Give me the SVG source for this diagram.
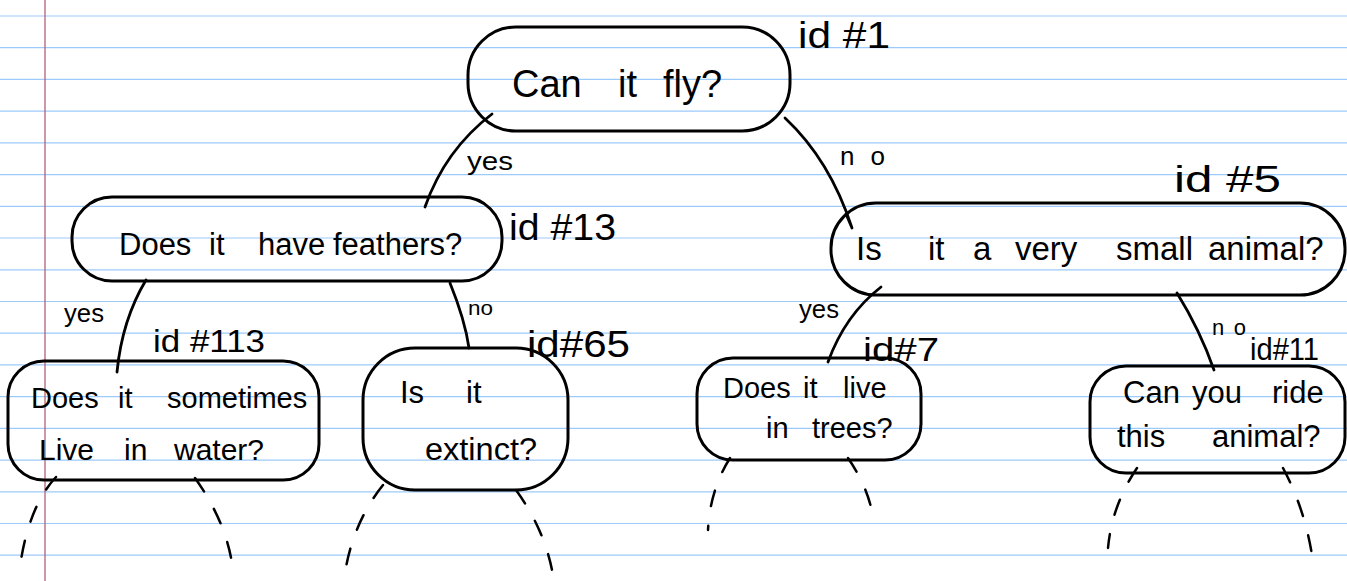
<svg xmlns="http://www.w3.org/2000/svg" width="1347" height="581" viewBox="0 0 1347 581">
<defs>
<style>
.rule{stroke:#9ccafa;stroke-width:1.2}
.margin{stroke:#b0607c;stroke-width:1.3}
.box{fill:none;stroke:#000;stroke-width:3;stroke-linejoin:round}
.edge{fill:none;stroke:#000;stroke-width:2.8;stroke-linecap:round}
.dash{fill:none;stroke:#000;stroke-width:2.5;stroke-dasharray:16 20;stroke-linecap:round}
text{font-family:"Liberation Sans",Arial,sans-serif;fill:#000}
.q{font-size:33px}
.q2{font-size:31px}
.id{font-size:36px}
.lb{font-size:26px}
</style>
</defs>
<rect width="1347" height="581" fill="#fff"/>
<g id="paper">
<line class="rule" x1="0" y1="16" x2="1347" y2="16"/>
<line class="rule" x1="0" y1="47.7" x2="1347" y2="47.7"/>
<line class="rule" x1="0" y1="79.4" x2="1347" y2="79.4"/>
<line class="rule" x1="0" y1="111.2" x2="1347" y2="111.2"/>
<line class="rule" x1="0" y1="142.9" x2="1347" y2="142.9"/>
<line class="rule" x1="0" y1="174.6" x2="1347" y2="174.6"/>
<line class="rule" x1="0" y1="206.3" x2="1347" y2="206.3"/>
<line class="rule" x1="0" y1="238" x2="1347" y2="238"/>
<line class="rule" x1="0" y1="269.8" x2="1347" y2="269.8"/>
<line class="rule" x1="0" y1="301.5" x2="1347" y2="301.5"/>
<line class="rule" x1="0" y1="333.2" x2="1347" y2="333.2"/>
<line class="rule" x1="0" y1="364.9" x2="1347" y2="364.9"/>
<line class="rule" x1="0" y1="396.6" x2="1347" y2="396.6"/>
<line class="rule" x1="0" y1="428.4" x2="1347" y2="428.4"/>
<line class="rule" x1="0" y1="460.1" x2="1347" y2="460.1"/>
<line class="rule" x1="0" y1="491.8" x2="1347" y2="491.8"/>
<line class="rule" x1="0" y1="523.5" x2="1347" y2="523.5"/>
<line class="rule" x1="0" y1="555.2" x2="1347" y2="555.2"/>
<line class="margin" x1="45" y1="0" x2="45" y2="581"/>
</g>
<g id="connectors">
<path class="edge" d="M492,114 Q445,150 425,207"/>
<path class="edge" d="M785,118 Q830,160 852,228 M852,228 L846,214"/>
<path class="edge" d="M146,280 Q122,320 117,372"/>
<path class="edge" d="M450,283 Q465,320 469,348"/>
<path class="edge" d="M881,287 Q845,315 828,362"/>
<path class="edge" d="M1177,293 Q1200,330 1214,370"/>
<path class="dash" d="M56,477 Q30,505 21,560"/>
<path class="dash" d="M195,478 Q225,520 232,563"/>
<path class="dash" d="M383,485 Q355,520 346,567"/>
<path class="dash" d="M516,490 Q545,530 553,575"/>
<path class="dash" d="M730,458 Q710,490 708,530"/>
<path class="dash" d="M848,458 Q870,490 874,523"/>
<path class="dash" d="M1137,468 Q1112,505 1108,548"/>
<path class="dash" d="M1283,468 Q1308,515 1314,570"/>
<text class="lb" x="467" y="170" textLength="46" lengthAdjust="spacingAndGlyphs">yes</text>
<text class="lb" x="840" y="165" textLength="45" lengthAdjust="spacing">no</text>
<text class="lb" x="64" y="322" textLength="40" lengthAdjust="spacingAndGlyphs">yes</text>
<text x="468" y="315" style="font-size:20px" textLength="25" lengthAdjust="spacingAndGlyphs">no</text>
<text class="lb" x="799" y="318" textLength="40" lengthAdjust="spacingAndGlyphs">yes</text>
<text x="1212" y="335" style="font-size:22px" textLength="34" lengthAdjust="spacing">no</text>
</g>
<g id="node1">
<rect class="box" x="468" y="27" width="322" height="104" rx="48"/>
<text class="q" y="97" style="font-size:38px"><tspan x="512">Can </tspan><tspan x="618">it </tspan><tspan x="663">fly?</tspan></text>
<text class="id" x="798" y="48" textLength="92" lengthAdjust="spacingAndGlyphs">id #1</text>
</g>
<g id="node13">
<rect class="box" x="72" y="197" width="430" height="84" rx="40"/>
<text class="q" y="255" style="font-size:31px"><tspan x="119">Does </tspan><tspan x="209">it </tspan><tspan x="258">have </tspan><tspan x="333">feathers?</tspan></text>
<text class="id" x="509" y="240" textLength="107" lengthAdjust="spacingAndGlyphs">id #13</text>
</g>
<g id="node5">
<rect class="box" x="831" y="203" width="514" height="92" rx="45"/>
<text class="q" y="260"><tspan x="856">Is </tspan><tspan x="928">it </tspan><tspan x="973">a </tspan><tspan x="1015">very </tspan><tspan x="1116">small </tspan><tspan x="1208">animal?</tspan></text>
<text class="id" x="1174" y="192" textLength="107" lengthAdjust="spacingAndGlyphs">id #5</text>
</g>
<g id="node113">
<rect class="box" x="8" y="361" width="311" height="119" rx="36"/>
<text class="q2" y="408" style="font-size:29px"><tspan x="31">Does </tspan><tspan x="118">it </tspan><tspan x="167">sometimes</tspan></text>
<text class="q2" y="460" style="font-size:30px"><tspan x="39">Live </tspan><tspan x="124">in </tspan><tspan x="174">water?</tspan></text>
<text class="id" x="153" y="352" style="font-size:32px" textLength="112" lengthAdjust="spacingAndGlyphs">id #113</text>
</g>
<g id="node65">
<rect class="box" x="363" y="348" width="205" height="142" rx="52"/>
<text class="q2" y="403"><tspan x="400">Is </tspan><tspan x="466">it</tspan></text>
<text class="q2" x="425" y="460" textLength="112" lengthAdjust="spacingAndGlyphs">extinct?</text>
<text class="id" x="527" y="357" textLength="103" lengthAdjust="spacingAndGlyphs">id#65</text>
</g>
<g id="node7">
<rect class="box" x="697" y="358" width="224" height="102" rx="36"/>
<text class="q2" y="398" style="font-size:29px"><tspan x="723">Does </tspan><tspan x="803">it </tspan><tspan x="843">live</tspan></text>
<text class="q2" y="438" style="font-size:29px"><tspan x="766">in </tspan><tspan x="812">trees?</tspan></text>
<text class="id" x="863" y="361" style="font-size:34px" textLength="76" lengthAdjust="spacingAndGlyphs">id#7</text>
</g>
<g id="node11">
<rect class="box" x="1090" y="366" width="255" height="107" rx="36"/>
<text class="q2" y="403"><tspan x="1123">Can </tspan><tspan x="1192">you </tspan><tspan x="1272">ride</tspan></text>
<text class="q2" y="447"><tspan x="1117">this </tspan><tspan x="1212">animal?</tspan></text>
<text class="id" x="1250" y="360" style="font-size:32px" textLength="69" lengthAdjust="spacingAndGlyphs">id#11</text>
</g>
</svg>
